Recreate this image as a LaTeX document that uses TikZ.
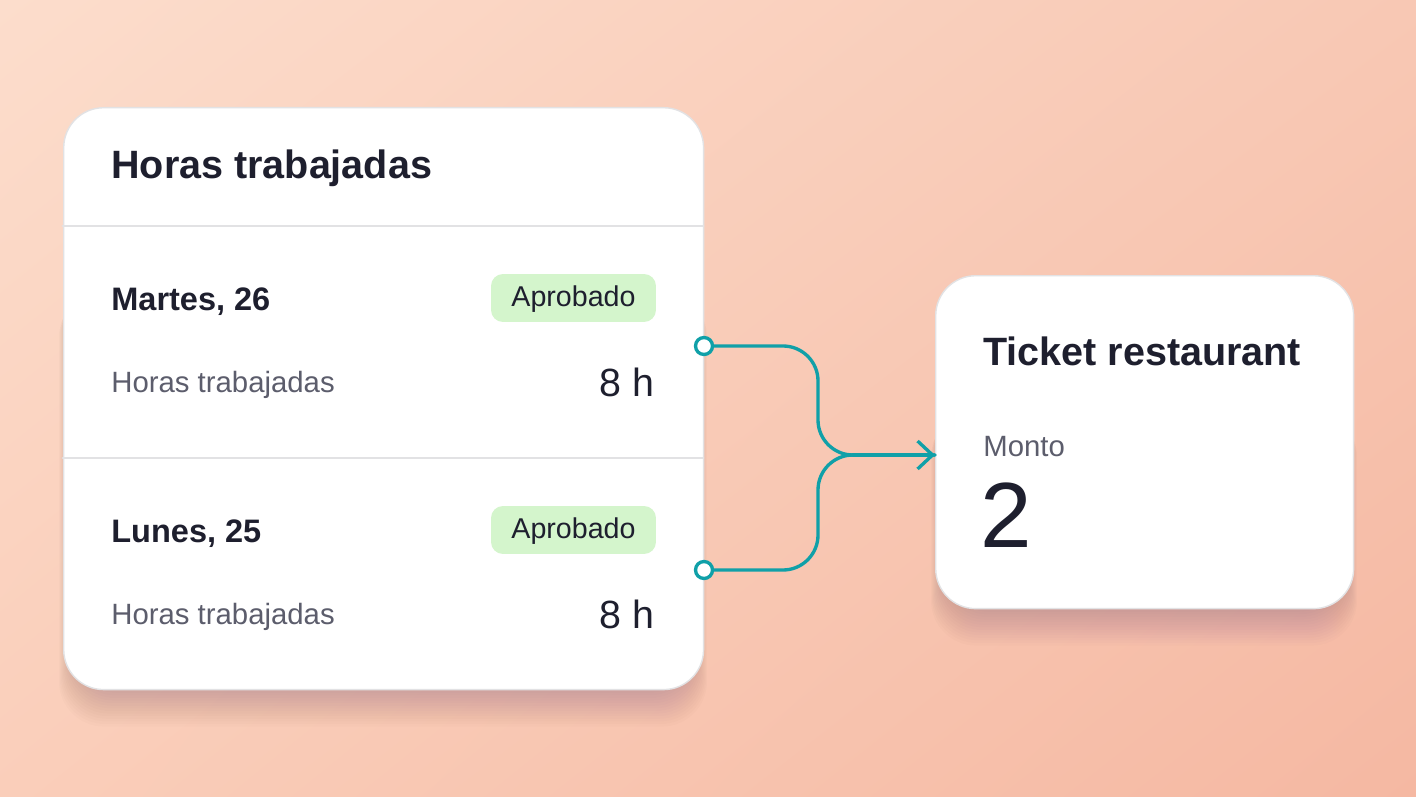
\documentclass[tikz,border=0pt]{standalone}
\usepackage{fontspec}
\setmainfont{Liberation Sans}
\usetikzlibrary{arrows.meta,shadings}
\definecolor{ink}{RGB}{30,31,46}
\definecolor{muted}{RGB}{92,93,108}
\definecolor{rule}{RGB}{226,226,228}
\definecolor{okfill}{RGB}{212,245,204}
\definecolor{teal}{RGB}{16,160,168}
\definecolor{peachA}{RGB}{252,221,204}
\definecolor{peachB}{RGB}{248,200,180}
\definecolor{peachC}{RGB}{250,206,186}
\definecolor{peachD}{RGB}{245,184,162}
\definecolor{shade}{RGB}{180,110,90}
\tikzset{
  card/.style={draw=rule, line width=0.8pt, fill=white, rounded corners=0.8cm, inner sep=0pt},
  heading/.style={anchor=base west, inner sep=0pt, text=ink, font=\fontsize{22.5}{26}\selectfont\bfseries},
  day/.style={anchor=base west, inner sep=0pt, text=ink, font=\fontsize{18.5}{21}\selectfont\bfseries},
  badge/.style={fill=okfill, rounded corners=0.24cm, text=ink, minimum width=3.3cm, minimum height=0.96cm, inner sep=0pt, text height=10.2pt, text depth=0pt, font=\fontsize{16.3}{19}\selectfont},
  label/.style={anchor=base west, inner sep=0pt, text=muted, font=\fontsize{16.7}{19}\selectfont},
  hours/.style={anchor=base east, inner sep=0pt, text=ink, font=\fontsize{22.4}{26}\selectfont},
  pin/.style={circle, draw=teal, line width=1.9pt, fill=white, minimum size=0.34cm, inner sep=0pt},
  wire/.style={draw=teal, line width=1.9pt, rounded corners=0.7cm},
}
\begin{document}
\begin{tikzpicture}[x=0.02cm, y=-0.02cm, line join=round, line cap=round]
% fondo
\shade[upper left=peachA, upper right=peachB, lower left=peachC, lower right=peachD] (0,0) rectangle (1416,797);
\useasboundingbox (0,0) rectangle (1416,797);

% sombras
\foreach \i in {1,...,16}{
  \fill[shade, opacity=0.011, rounded corners=0.9cm] ({75-\i},{260+2*\i}) rectangle ({691+\i},{685+2.6*\i});
  \fill[shade, opacity=0.011, rounded corners=0.9cm] ({947-\i},{380+2*\i}) rectangle ({1341+\i},{604+2.6*\i});
}

% tarjeta izquierda
\node[card, minimum width=12.8cm, minimum height=11.64cm, anchor=north west] (hoursCard) at (63,107) {};
\draw[rule, line width=1.7pt] (63,226) -- (703,226);
\draw[rule, line width=1.7pt] (63,458) -- (703,458);
\node[heading] (title) at (111,179) {Horas trabajadas};

\node[day] (tue) at (111,310) {Martes, 26};
\node[badge] (tueOk) at (573.5,298) {Aprobado};
\node[label] (tueLbl) at (111,392) {Horas trabajadas};
\node[hours] (tueH) at (655,396) {8 h};

\node[day] (mon) at (111,542) {Lunes, 25};
\node[badge] (monOk) at (573.5,530) {Aprobado};
\node[label] (monLbl) at (111,624) {Horas trabajadas};
\node[hours] (monH) at (655,628) {8 h};

% tarjeta derecha
\node[card, minimum width=8.36cm, minimum height=6.66cm, anchor=north west] (ticket) at (935,275) {};
\node[heading] (ticketTitle) at (983,365) {Ticket restaurant};
\node[label] (amountLbl) at (983,456) {Monto};
\node[anchor=base west, inner sep=0pt, text=ink, font=\fontsize{52.7}{56}\selectfont] (amount) at (980,547) {2};

% conectores
\node[pin] (pinTue) at (704,346) {};
\node[pin] (pinMon) at (704,570) {};
\coordinate (mid) at (818,455);
\coordinate (joint) at (853,455);
\coordinate (tip) at (935,455);
\draw[wire] (pinTue.east) -| (mid) -- (tip);
\draw[wire] (pinMon.east) -| (mid) -- (tip);
\draw[teal, line width=1.9pt, -{Straight Barb[length=0.3cm, width=0.56cm]}] (joint) -- (tip);
\end{tikzpicture}
\end{document}
